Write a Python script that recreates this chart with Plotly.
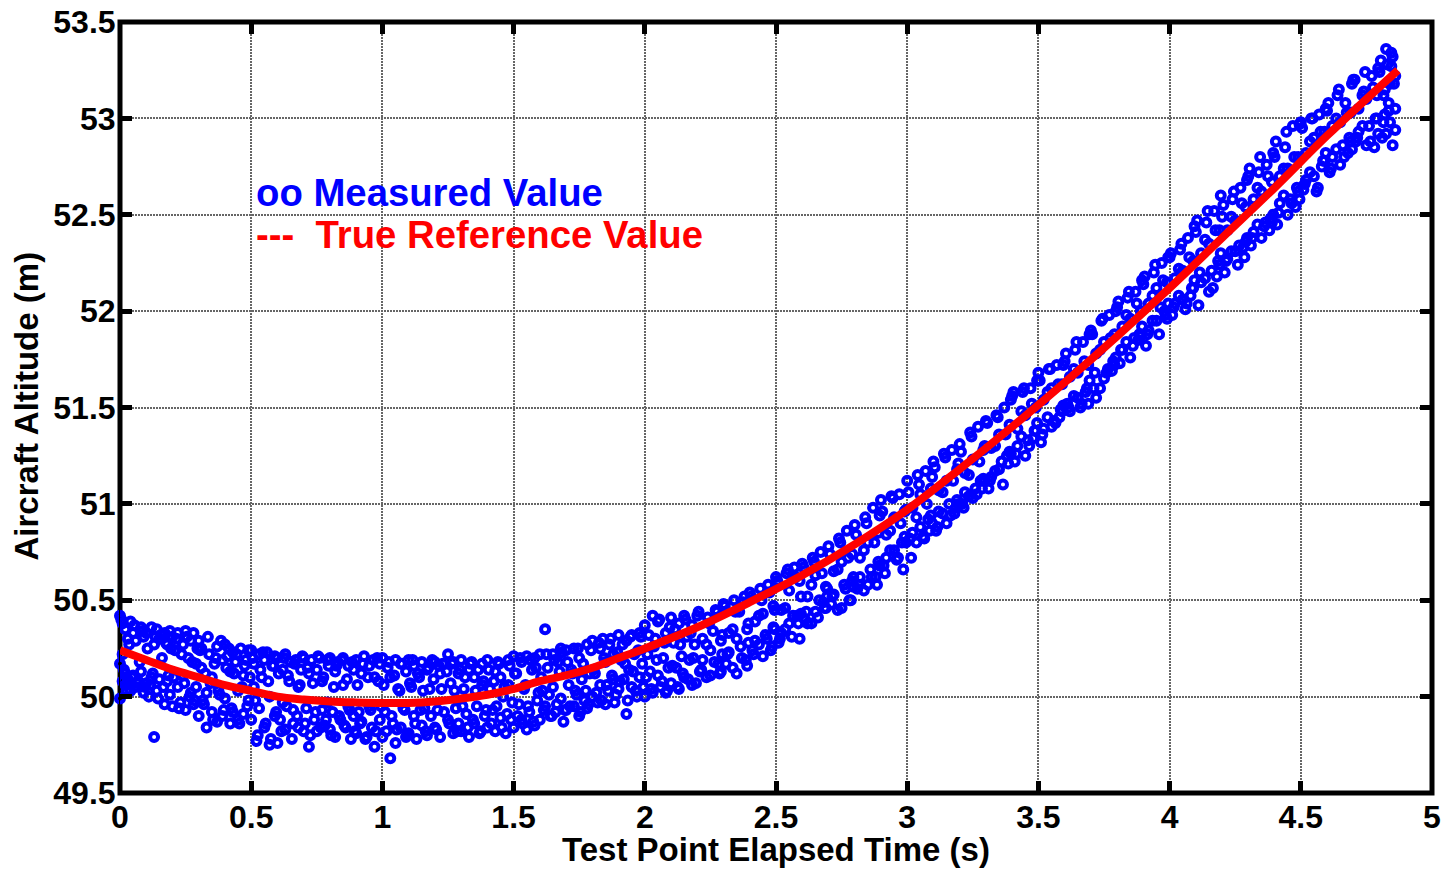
import plotly.graph_objects as go

x_ticks = [0, 0.5, 1, 1.5, 2, 2.5, 3, 3.5, 4, 4.5, 5]
x_labels = ["0", "0.5", "1", "1.5", "2", "2.5", "3", "3.5", "4", "4.5", "5"]
y_ticks = [49.5, 50, 50.5, 51, 51.5, 52, 52.5, 53, 53.5]
y_labels = ["49.5", "50", "50.5", "51", "51.5", "52", "52.5", "53", "53.5"]

reference_time = [0, .1, .2, .3, .4, .5, .6, .7, .8, .9, 1.0, 1.1, 1.2, 1.3, 1.4, 1.5, 1.6, 1.7, 1.8, 1.9, 2.0,
                  2.2, 2.4, 2.6, 2.8, 3.0, 3.2, 3.4, 3.6, 3.8, 4.0, 4.2, 4.4, 4.6, 4.87]
reference_altitude = [50.24, 50.19, 50.14, 50.10, 50.06, 50.03, 50.00, 49.985, 49.975, 49.97, 49.967, 49.967, 49.975,
                      49.99, 50.01, 50.04, 50.08, 50.11, 50.15, 50.20, 50.25, 50.36, 50.49, 50.63, 50.79, 50.97,
                      51.18, 51.40, 51.63, 51.87, 52.12, 52.38, 52.64, 52.91, 53.25]

measured_time = [
 .00,.00,.00,.01,.01,.01,.02,.02,.02,.03,.03,.04,.04,.05,.05,.06,.06,.07,.08,.08,.09,.09,
 .10,.10,.11,.12,.12,.13,.13,.14,.14,.15,.15,.16,.17,.17,.18,.18,.19,.19,
 .20,.20,.21,.22,.22,.23,.24,.24,.25,.25,.26,.27,.27,.28,.28,.29,.29,
 .30,.30,.31,.31,.32,.33,.33,.34,.35,.35,.36,.37,.37,.38,.39,.39,
 .40,.40,.41,.42,.42,.43,.43,.44,.45,.45,.46,.47,.47,.48,.49,.49,
 .50,.50,.51,.51,.52,.53,.53,.54,.55,.55,.56,.57,.57,.58,.59,.59,
 .60,.60,.61,.62,.62,.63,.63,.64,.65,.66,.66,.67,.68,.68,.69,
 .70,.70,.71,.72,.72,.73,.74,.75,.75,.76,.77,.77,.78,.79,.79,
 .80,.80,.81,.82,.82,.83,.84,.85,.85,.86,.87,.87,.88,.89,.89,
 .90,.90,.91,.92,.92,.93,.94,.95,.95,.96,.97,.97,.98,.99,.99,
 1.00,1.00,1.01,1.02,1.03,1.03,1.04,1.05,1.05,1.06,1.07,1.07,1.08,1.09,1.09,
 1.10,1.10,1.11,1.12,1.12,1.13,1.14,1.15,1.15,1.16,1.17,1.17,1.18,1.19,
 1.20,1.20,1.21,1.22,1.22,1.23,1.25,1.25,1.26,1.27,1.27,1.28,1.29,1.29,
 1.30,1.30,1.31,1.32,1.33,1.33,1.34,1.35,1.35,1.36,1.37,1.38,1.38,1.39,
 1.40,1.40,1.41,1.42,1.43,1.43,1.44,1.45,1.45,1.46,1.47,1.48,1.48,1.49,
 1.50,1.50,1.51,1.52,1.53,1.53,1.54,1.55,1.55,1.56,1.57,1.58,1.58,1.59,
 1.60,1.60,1.61,1.62,1.62,1.63,1.64,1.65,1.65,1.66,1.67,1.68,1.68,1.69,
 1.70,1.70,1.71,1.72,1.73,1.73,1.74,1.75,1.75,1.76,1.77,1.78,1.78,1.79,
 1.80,1.80,1.81,1.82,1.83,1.83,1.84,1.85,1.85,1.86,1.87,1.88,1.88,1.89,
 1.90,1.90,1.91,1.92,1.93,1.93,1.94,1.95,1.95,1.96,1.97,1.98,1.98,1.99,
 2.00,2.00,2.01,2.02,2.03,2.03,2.04,2.05,2.05,2.06,2.07,2.08,2.08,2.09,
 2.10,2.10,2.11,2.12,2.13,2.13,2.14,2.15,2.15,2.16,2.17,2.18,2.18,2.19,
 2.20,2.21,2.22,2.22,2.24,2.25,2.25,2.26,2.27,2.28,2.29,2.29,
 2.30,2.31,2.32,2.32,2.34,2.35,2.35,2.36,2.37,2.38,2.39,2.39,
 2.40,2.41,2.42,2.42,2.44,2.45,2.45,2.46,2.47,2.48,2.49,2.49,
 2.50,2.51,2.52,2.52,2.54,2.55,2.55,2.56,2.57,2.58,2.59,2.59,
 2.60,2.61,2.62,2.62,2.64,2.65,2.65,2.66,2.67,2.68,2.69,2.69,
 2.70,2.71,2.72,2.72,2.74,2.75,2.75,2.76,2.77,2.78,2.79,2.79,
 2.80,2.81,2.82,2.82,2.84,2.85,2.85,2.86,2.87,2.88,2.89,2.89,
 2.90,2.91,2.92,2.92,2.94,2.95,2.95,2.96,2.97,2.98,2.99,2.99,
 3.00,3.01,3.02,3.02,3.04,3.05,3.05,3.06,3.07,3.08,3.09,3.09,
 3.10,3.11,3.12,3.12,3.14,3.15,3.15,3.16,3.17,3.18,3.19,3.19,
 3.20,3.21,3.22,3.22,3.24,3.25,3.25,3.26,3.27,3.28,3.29,3.29,
 3.30,3.31,3.32,3.32,3.34,3.35,3.35,3.36,3.37,3.38,3.39,3.39,
 3.40,3.41,3.42,3.42,3.44,3.45,3.45,3.46,3.47,3.48,3.49,3.49,
 3.50,3.51,3.52,3.52,3.54,3.55,3.55,3.56,3.57,3.58,3.59,3.59,
 3.60,3.61,3.62,3.62,3.64,3.65,3.65,3.66,3.67,3.68,3.69,3.69,
 3.70,3.71,3.72,3.72,3.74,3.75,3.75,3.76,3.77,3.78,3.79,3.79,
 3.80,3.81,3.82,3.82,3.84,3.85,3.85,3.86,3.87,3.88,3.89,3.89,
 3.90,3.91,3.92,3.92,3.94,3.95,3.95,3.96,3.97,3.98,3.99,3.99,
 4.00,4.01,4.02,4.02,4.04,4.05,4.05,4.06,4.07,4.08,4.09,4.09,
 4.10,4.11,4.12,4.12,4.14,4.15,4.15,4.16,4.17,4.18,4.19,4.19,
 4.20,4.21,4.22,4.22,4.24,4.25,4.25,4.26,4.27,4.28,4.29,4.29,
 4.30,4.31,4.32,4.32,4.34,4.35,4.35,4.36,4.37,4.38,4.39,4.39,
 4.40,4.41,4.42,4.42,4.44,4.45,4.45,4.46,4.47,4.48,4.49,4.49,
 4.50,4.51,4.52,4.52,4.54,4.55,4.55,4.56,4.57,4.58,4.59,4.59,
 4.60,4.61,4.62,4.62,4.64,4.65,4.65,4.66,4.67,4.68,4.69,4.69,
 4.70,4.71,4.72,4.72,4.74,4.75,4.75,4.76,4.77,4.78,4.79,4.79,
 4.80,4.81,4.82,4.82,4.83,4.84,4.84,4.85,4.85,4.86,4.86,4.86,
]

measured_altitude = [
 50.42,50.17,49.99,50.38,50.08,50.22,50.35,50.06,50.12,50.30,50.09,50.39,50.03,50.33,50.11,50.05,50.29,50.08,50.36,50.13,50.02,50.31,
 50.33,50.07,50.00,50.36,50.10,50.27,49.79,50.35,50.03,50.30,50.09,50.20,50.33,49.96,50.27,50.08,50.34,50.01,
 50.31,49.95,50.24,50.05,50.33,49.97,50.27,50.11,49.93,50.34,50.20,50.02,50.29,50.33,49.96,50.17,50.05,
 50.29,49.90,50.15,50.25,49.96,50.02,49.84,50.22,50.10,49.92,50.17,49.87,50.26,50.01,50.19,49.90,
 50.27,49.99,50.21,49.86,50.13,50.23,49.92,50.18,50.03,49.88,50.25,50.11,49.91,50.19,49.98,50.24,
 50.24,49.88,50.05,50.17,49.77,50.22,49.94,50.10,50.19,49.84,50.23,49.75,50.00,50.16,49.90,50.21,
 49.76,50.20,49.88,50.14,49.97,50.22,49.83,50.11,50.18,49.86,49.93,50.19,50.05,49.84,50.14,
 50.20,49.82,49.94,50.12,49.74,50.19,49.88,50.14,49.82,50.20,49.93,50.08,49.85,50.19,49.97,
 50.20,49.83,49.92,50.13,49.79,50.18,49.88,50.06,50.20,49.84,49.95,50.16,49.78,50.14,49.90,
 50.19,49.81,49.92,50.12,49.87,50.21,49.79,50.16,49.95,49.84,50.10,49.74,50.20,49.88,50.17,
 50.20,49.79,49.92,50.15,49.68,50.10,49.86,50.19,49.76,50.04,50.17,49.84,49.94,50.13,49.79,
 50.19,49.81,50.05,49.90,50.16,49.78,50.10,50.18,49.85,49.94,50.14,49.80,50.04,50.19,
 50.18,49.84,49.93,50.12,49.79,50.17,50.22,49.88,50.07,49.81,50.18,49.94,50.12,49.86,
 50.19,49.82,50.04,49.91,50.14,49.79,50.18,49.86,50.10,49.95,49.81,50.17,50.06,49.90,
 50.19,49.84,50.04,49.93,50.13,49.82,50.18,49.89,50.10,50.00,49.81,50.19,50.06,49.88,
 50.21,49.84,50.12,49.96,49.88,50.18,50.04,50.21,49.83,49.92,50.14,49.85,50.20,49.98,
 50.22,49.88,50.03,50.35,49.95,50.15,49.90,50.22,50.05,49.92,50.18,49.99,50.25,49.87,
 50.24,49.93,50.06,50.14,49.95,50.25,50.01,49.90,50.20,50.09,49.98,50.27,49.94,50.12,
 50.29,50.00,50.12,49.97,50.25,50.06,50.30,49.96,50.18,50.03,50.30,50.09,50.22,50.01,
 50.32,50.04,50.19,50.09,50.29,49.91,50.14,50.32,50.05,50.22,50.00,50.33,50.10,50.17,
 50.37,50.00,50.22,50.13,50.42,50.02,50.30,50.11,50.39,50.05,50.20,50.33,50.02,50.15,
 50.41,50.07,50.28,50.15,50.38,50.04,50.21,50.42,50.10,50.31,50.19,50.37,50.06,50.27,
 50.42,50.13,50.30,50.19,50.41,50.11,50.24,50.34,50.45,50.17,50.29,50.13,
 50.48,50.17,50.33,50.23,50.50,50.12,50.30,50.44,50.20,50.52,50.35,50.16,
 50.54,50.24,50.39,50.29,50.56,50.21,50.43,50.32,50.58,50.24,50.47,50.36,
 50.62,50.28,50.45,50.33,50.64,50.38,50.55,50.31,50.67,50.42,50.30,50.60,
 50.69,50.40,50.52,50.38,50.72,50.44,50.63,50.41,50.75,50.49,50.57,50.46,
 50.78,50.48,50.65,50.53,50.82,50.46,50.70,50.58,50.86,50.50,50.74,50.60,
 50.89,50.56,50.72,50.62,50.93,50.58,50.80,50.66,50.98,50.62,50.85,50.70,
 51.02,50.68,50.84,50.72,51.04,50.76,50.93,50.71,51.05,50.80,50.96,50.83,
 51.12,50.82,50.98,50.85,51.15,50.88,51.05,50.83,51.17,50.92,51.08,50.94,
 51.22,50.86,51.07,50.96,51.26,50.90,51.12,51.00,51.28,50.95,51.18,51.02,
 51.31,51.00,51.16,51.06,51.37,51.03,51.23,51.08,51.40,51.12,51.28,51.13,
 51.43,51.08,51.29,51.14,51.46,51.18,51.36,51.22,51.50,51.25,51.41,51.27,
 51.56,51.22,51.39,51.30,51.58,51.25,51.46,51.33,51.60,51.34,51.50,51.38,
 51.68,51.32,51.54,51.39,51.70,51.40,51.60,51.43,51.72,51.45,51.62,51.48,
 51.74,51.52,51.66,51.48,51.80,51.55,51.68,51.50,51.84,51.58,51.72,51.52,
 51.90,51.60,51.78,51.55,51.95,51.65,51.84,51.68,51.98,51.69,51.88,51.72,
 52.02,51.73,51.92,51.80,52.07,51.76,51.96,51.82,52.10,51.85,52.00,51.87,
 52.14,51.82,52.04,51.90,52.20,51.95,52.12,51.88,52.25,52.00,52.15,51.96,
 52.28,51.98,52.17,52.04,52.32,52.06,52.21,52.01,52.38,52.08,52.26,52.12,
 52.41,52.03,52.30,52.15,52.46,52.10,52.35,52.21,52.52,52.18,52.42,52.24,
 52.49,52.20,52.42,52.27,52.58,52.31,52.47,52.24,52.64,52.33,52.54,52.36,
 52.70,52.34,52.58,52.41,52.72,52.38,52.62,52.44,52.76,52.42,52.67,52.46,
 52.80,52.45,52.70,52.56,52.85,52.50,52.74,52.58,52.96,52.54,52.80,52.62,
 52.98,52.63,52.82,52.68,53.00,52.70,52.90,52.62,53.02,52.75,52.93,52.78,
 53.04,52.72,52.96,52.80,53.12,52.76,52.98,52.86,53.08,52.82,53.03,52.88,
 53.20,52.88,53.05,52.93,53.14,52.86,53.10,52.96,53.22,52.85,53.12,53.00,
 53.24,52.90,53.15,53.02,53.28,52.98,53.18,52.86,53.32,53.05,53.22,52.94,
]

measured_time_extra = [
 .005,.015,.025,.035,.045,.055,.065,.075,.085,.095, .105,.115,.125,.135,.145,.155,.165,.175,.185,.195,
 .205,.215,.225,.235,.245,.255,.265,.275,.285,.295, .305,.315,.325,.335,.345,.355,.365,.375,.385,.395,
 .405,.415,.425,.435,.445,.455,.465,.475,.485,.495, .505,.515,.525,.535,.545,.555,.565,.575,.585,.595,
 .605,.615,.625,.635,.645,.655,.665,.675,.685,.695, .705,.715,.725,.735,.745,.755,.765,.775,.785,.795,
 .805,.815,.825,.835,.845,.855,.865,.875,.885,.895, .905,.915,.925,.935,.945,.955,.965,.975,.985,.995,
 1.005,1.015,1.025,1.035,1.045,1.055,1.065,1.075,1.085,1.095, 1.105,1.115,1.125,1.135,1.145,1.155,1.165,1.175,1.185,1.195,
 1.205,1.215,1.225,1.235,1.245,1.255,1.265,1.275,1.285,1.295, 1.305,1.315,1.325,1.335,1.345,1.355,1.365,1.375,1.385,1.395,
 1.405,1.415,1.425,1.435,1.445,1.455,1.465,1.475,1.485,1.495, 1.505,1.515,1.525,1.535,1.545,1.555,1.565,1.575,1.585,1.595,
 1.605,1.615,1.625,1.635,1.645,1.655,1.665,1.675,1.685,1.695, 1.705,1.715,1.725,1.735,1.745,1.755,1.765,1.775,1.785,1.795,
 1.805,1.815,1.825,1.835,1.845,1.855,1.865,1.875,1.885,1.895, 1.905,1.915,1.925,1.935,1.945,1.955,1.965,1.975,1.985,1.995,
 2.005,2.015,2.025,2.035,2.045,2.055,2.065,2.075,2.085,2.095, 2.105,2.115,2.125,2.135,2.145,2.155,2.165,2.175,2.185,2.195,
 2.205,2.215,2.235,2.235,2.245,2.265,2.275,2.285,2.295,2.295, 2.305,2.315,2.335,2.335,2.345,2.365,2.375,2.385,2.395,2.395,
 2.405,2.415,2.435,2.435,2.445,2.465,2.475,2.485,2.495,2.495, 2.505,2.515,2.535,2.535,2.545,2.565,2.575,2.585,2.595,2.595,
 2.605,2.615,2.635,2.635,2.645,2.665,2.675,2.685,2.695,2.695, 2.705,2.715,2.735,2.735,2.745,2.765,2.775,2.785,2.795,2.795,
 2.805,2.815,2.835,2.835,2.845,2.865,2.875,2.885,2.895,2.895, 2.905,2.915,2.935,2.935,2.945,2.965,2.975,2.985,2.995,2.995,
 3.005,3.015,3.035,3.035,3.045,3.065,3.075,3.085,3.095,3.095, 3.105,3.115,3.135,3.135,3.145,3.165,3.175,3.185,3.195,3.195,
 3.205,3.215,3.235,3.235,3.245,3.265,3.275,3.285,3.295,3.295, 3.305,3.315,3.335,3.335,3.345,3.365,3.375,3.385,3.395,3.395,
 3.405,3.415,3.435,3.435,3.445,3.465,3.475,3.485,3.495,3.495, 3.505,3.515,3.535,3.535,3.545,3.565,3.575,3.585,3.595,3.595,
 3.605,3.615,3.635,3.635,3.645,3.665,3.675,3.685,3.695,3.695, 3.705,3.715,3.735,3.735,3.745,3.765,3.775,3.785,3.795,3.795,
 3.805,3.815,3.835,3.835,3.845,3.865,3.875,3.885,3.895,3.895, 3.905,3.915,3.935,3.935,3.945,3.965,3.975,3.985,3.995,3.995,
 4.005,4.015,4.035,4.035,4.045,4.065,4.075,4.085,4.095,4.095, 4.105,4.115,4.135,4.135,4.145,4.165,4.175,4.185,4.195,4.195,
 4.205,4.215,4.235,4.235,4.245,4.265,4.275,4.285,4.295,4.295, 4.305,4.315,4.335,4.335,4.345,4.365,4.375,4.385,4.395,4.395,
 4.405,4.415,4.435,4.435,4.445,4.465,4.475,4.485,4.495,4.495, 4.505,4.515,4.535,4.535,4.545,4.565,4.575,4.585,4.595,4.595,
 4.605,4.615,4.635,4.635,4.645,4.665,4.675,4.685,4.695,4.695, 4.705,4.715,4.735,4.735,4.745,4.765,4.775,4.785,4.795,4.795,
 4.805,4.815,4.825,4.835,4.845,4.855,4.845,4.835,4.825,4.815,
]

measured_altitude_extra = [
 50.40,50.14,50.03,50.27,50.10,50.37,50.07,50.18,50.34,50.05, 50.25,50.06,50.12,50.31,49.99,50.32,50.05,50.28,50.11,50.25,
 50.10,50.30,49.94,50.22,50.07,50.31,50.00,50.18,49.98,50.25, 50.24,49.98,50.12,50.31,50.07,49.88,50.20,50.03,50.29,49.93,
 50.15,50.25,49.94,50.12,50.22,49.86,50.05,50.16,49.95,50.10, 50.20,49.98,49.80,50.14,50.23,49.86,50.08,49.78,50.16,49.92,
 50.12,49.82,50.20,49.95,50.08,49.78,50.17,49.90,50.06,50.21, 49.86,50.15,49.80,50.07,49.92,50.21,49.84,50.10,49.88,50.16,
 49.80,50.05,50.16,49.90,50.19,49.85,50.09,49.93,50.18,49.82, 50.06,49.86,50.17,49.78,50.10,49.93,50.19,49.82,50.08,49.95,
 50.06,49.82,50.18,49.90,50.11,49.83,50.03,50.17,49.93,49.80, 50.07,50.19,49.86,50.12,49.93,50.03,49.82,50.15,49.90,50.09,
 49.83,50.16,50.04,49.92,50.13,49.86,50.17,50.03,49.82,50.14, 49.95,50.10,49.84,50.17,49.88,50.03,50.14,49.82,50.08,49.93,
 50.14,49.86,50.08,49.95,50.17,49.84,50.05,49.91,50.16,49.97, 50.12,49.90,50.20,49.86,50.06,49.95,50.19,49.87,50.15,50.02,
 50.10,49.93,50.22,50.01,49.90,50.19,49.96,50.13,50.23,49.93, 50.18,49.95,50.12,50.03,50.25,49.92,50.17,50.03,49.96,50.24,
 50.14,50.02,50.28,49.98,50.20,50.06,50.27,50.11,49.97,50.23, 50.08,50.27,50.17,49.98,50.31,50.13,50.03,50.24,50.31,50.05,
 50.10,50.32,50.04,50.26,50.19,50.40,50.08,50.28,50.03,50.36, 50.16,50.35,50.05,50.27,50.12,50.40,50.09,50.33,50.20,50.07,
 50.44,50.14,50.27,50.10,50.38,50.18,50.44,50.12,50.32,50.22, 50.47,50.22,50.35,50.15,50.44,50.26,50.49,50.19,50.38,50.28,
 50.52,50.22,50.42,50.27,50.50,50.30,50.54,50.26,50.45,50.35, 50.60,50.30,50.46,50.35,50.66,50.42,50.62,50.38,50.52,50.43,
 50.67,50.44,50.58,50.38,50.70,50.50,50.64,50.46,50.56,50.52, 50.74,50.52,50.66,50.45,50.80,50.56,50.72,50.50,50.62,50.57,
 50.84,50.58,50.76,50.55,50.90,50.62,50.80,50.58,50.94,50.68, 50.96,50.64,50.86,50.76,51.03,50.72,50.90,50.66,50.97,50.80,
 51.06,50.72,50.93,50.80,51.10,50.82,51.00,50.86,51.14,50.90, 51.19,50.88,51.06,50.95,51.24,50.94,51.12,50.98,51.21,51.00,
 51.27,50.98,51.15,51.04,51.35,51.05,51.22,51.08,51.30,51.12, 51.42,51.12,51.30,51.17,51.45,51.10,51.36,51.21,51.54,51.26,
 51.58,51.26,51.48,51.35,51.60,51.30,51.52,51.38,51.64,51.42, 51.64,51.36,51.58,51.45,51.70,51.42,51.62,51.49,51.72,51.51,
 51.78,51.50,51.70,51.56,51.84,51.52,51.74,51.60,51.88,51.64, 51.88,51.68,51.80,51.60,51.96,51.70,51.86,51.74,52.00,51.76,
 52.05,51.80,51.98,51.84,52.10,51.86,52.04,51.88,52.16,51.92, 52.18,51.88,52.08,51.95,52.24,52.02,52.16,51.98,52.28,52.04,
 52.30,52.02,52.22,52.08,52.35,52.04,52.28,52.12,52.44,52.16, 52.47,52.20,52.37,52.17,52.52,52.12,52.42,52.26,52.60,52.30,
 52.55,52.26,52.49,52.31,52.62,52.34,52.56,52.28,52.68,52.38, 52.74,52.38,52.64,52.45,52.80,52.46,52.70,52.48,52.82,52.50,
 52.88,52.51,52.74,52.60,52.93,52.56,52.80,52.64,52.97,52.58, 52.95,52.66,52.88,52.72,53.00,52.64,52.93,52.78,53.05,52.82,
 53.08,52.74,53.00,52.84,53.15,52.80,53.03,52.90,53.18,52.84, 53.20,52.90,53.12,52.96,53.24,52.88,53.16,53.00,53.26,52.92,
 53.30,52.98,53.36,53.08,53.34,53.18,53.27,53.04,52.92,53.12,
]

blue = "#0000ff"
red = "#ff0000"
font = "Liberation Sans, Arial, sans-serif"

fig = go.Figure()
fig.add_trace(go.Scatter(x=measured_time + measured_time_extra, y=measured_altitude + measured_altitude_extra,
                         mode="markers", cliponaxis=False,
                         marker=dict(symbol="circle-open", size=8, color=blue, line=dict(width=4, color=blue))))
fig.add_trace(go.Scatter(x=reference_time, y=reference_altitude, mode="lines", cliponaxis=False,
                         line=dict(color=red, width=8, shape="spline")))

axis_common = dict(showline=True, linecolor="black", linewidth=1, mirror="allticks", ticks="inside",
                   ticklen=12, tickwidth=5, tickcolor="black", showgrid=True, gridcolor="#666666", gridwidth=2,
                   griddash="1.5px,1.5px", zeroline=False, ticklabeloverflow="allow", automargin=False,
                   tickfont=dict(family=font, size=32, color="black", weight="bold"))
fig.update_xaxes(range=[0, 5], tickmode="array", tickvals=x_ticks, ticktext=x_labels, ticklabelstandoff=-4, **axis_common)
fig.update_yaxes(range=[49.5, 53.5], tickmode="array", tickvals=y_ticks, ticktext=y_labels, ticklabelstandoff=-3, **axis_common)

fig.add_shape(type="rect", xref="paper", yref="paper", x0=0, x1=1, y0=0, y1=1, layer="below",
              line=dict(color="black", width=5), fillcolor="rgba(0,0,0,0)")

fig.add_annotation(xref="paper", yref="paper", x=0.5, y=0, yshift=-56, xanchor="center", yanchor="middle", showarrow=False,
                   text="<b>Test Point Elapsed Time (s)</b>", font=dict(family=font, size=33, color="black"))
fig.add_annotation(xref="paper", yref="paper", x=0, y=0.5, xshift=-94, yshift=1, xanchor="center", yanchor="middle", showarrow=False,
                   textangle=-90, text="<b>Aircraft Altitude (m)</b>", font=dict(family=font, size=33, color="black"))

fig.add_annotation(x=0.5125, y=52.615, xref="x", yref="y", xanchor="left", yanchor="middle", showarrow=False,
                   text="<b>oo Measured Value</b>", font=dict(family=font, size=38.3, color=blue))
fig.add_annotation(x=0.5125, y=52.395, xref="x", yref="y", xanchor="left", yanchor="middle", showarrow=False,
                   text="<b>---  True Reference Value</b>", font=dict(family=font, size=38.3, color=red))

fig.update_layout(width=1445, height=869, showlegend=False, plot_bgcolor="white", paper_bgcolor="white",
                  margin=dict(l=120, r=13, t=22, b=76))
fig.write_html("out.html", config={"displayModeBar": False},
               post_script="document.body.style.margin='0';document.documentElement.style.overflow='hidden';")
